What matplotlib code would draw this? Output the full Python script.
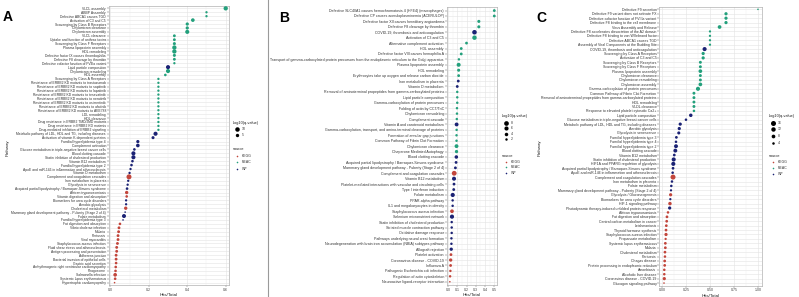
import matplotlib
matplotlib.use("Agg")
import matplotlib.pyplot as plt
import numpy as np

plt.rcParams['font.family'] = ['Liberation Sans', 'DejaVu Sans']

# ---------------- Panel A ----------------
A_labels = [
    "VLDL assembly", "ABBP Assembly", "Defective ABCA1 causes TGD", "Activation of C3 and C5",
    "Scavenging by Class B Receptors", "Chylomicron clearance", "Chylomicron assembly", "VLDL clearance",
    "Uptake and function of anthrax toxins", "Scavenging by Class F Receptors", "Plasma lipoprotein assembly",
    "HDL remodeling", "Defective factor IX causes thrombophilia", "Defective F8 cleavage by thrombin",
    "Defective cofactor function of FVIIIa variant", "Lipid particle composition", "Chylomicron remodeling",
    "HDL assembly", "Scavenging by Class A Receptors",
    "Resistance of ERBB2 KD mutants to trastuzumab", "Resistance of ERBB2 KD mutants to sapitinib",
    "Resistance of ERBB2 KD mutants to lapatinib", "Resistance of ERBB2 KD mutants to tesevatinib",
    "Resistance of ERBB2 KD mutants to neratinib", "Resistance of ERBB2 KD mutants to osimertinib",
    "Resistance of ERBB2 KD mutants to afatinib", "Resistance of ERBB2 KD mutants to AEE788",
    "LDL remodeling", "HDL clearance", "Drug resistance in ERBB2 TMD/JMD mutants",
    "Drug resistance in ERBB2 KD mutants", "Drug-mediated inhibition of ERBB2 signaling",
    "Metabolic pathway of LDL, HDL and TG, including diseases", "Activation of vitamin K-dependent proteins",
    "Familial hyperlipidemia type 4", "Complement activation",
    "Glucose metabolism in triple-negative breast cancer cells", "Blood clotting cascade",
    "Statin inhibition of cholesterol production", "Vitamin B12 metabolism", "Familial hyperlipidemia type 2",
    "ApoE and miR-146 in inflammation and atherosclerosis", "Vitamin D metabolism",
    "Complement and coagulation cascades", "Iron metabolism in placenta", "Glycolysis in senescence",
    "Acquired partial lipodystrophy / Barraquer-Simons syndrome", "African trypanosomiasis",
    "Vitamin digestion and absorption", "Biomarkers for urea cycle disorders", "Aerobic glycolysis",
    "Cholesterol metabolism", "Mammary gland development pathway - Puberty (Stage 2 of 4)",
    "Folate metabolism", "Familial hyperlipidemia type 3", "Fat digestion and absorption",
    "Vibrio cholerae infection", "Malaria", "Pertussis", "Viral myocarditis",
    "Staphylococcus aureus infection", "Fluid shear stress and atherosclerosis",
    "Antigen processing and presentation", "Adherens junction", "Bacterial invasion of epithelial cells",
    "Gastric acid secretion", "Arrhythmogenic right ventricular cardiomyopathy", "Phagosome",
    "Salmonella infection", "Systemic lupus erythematosus", "Hypertrophic cardiomyopathy",
]
A_ratio = [
    0.6, 0.5, 0.5, 0.429, 0.4, 0.4, 0.4, 0.333, 0.333, 0.333, 0.333, 0.333, 0.333, 0.333, 0.333,
    0.3, 0.3, 0.286, 0.25, 0.25, 0.25, 0.25, 0.25, 0.25, 0.25, 0.25, 0.25, 0.25, 0.25, 0.25, 0.25, 0.25,
    0.235, 0.222, 0.143, 0.143, 0.125, 0.12, 0.12, 0.115, 0.11, 0.105, 0.1, 0.097, 0.093, 0.09, 0.087,
    0.085, 0.085, 0.082, 0.082, 0.08, 0.077, 0.071, 0.066, 0.05, 0.045, 0.043, 0.04, 0.04, 0.037,
    0.033, 0.033, 0.03, 0.03, 0.03, 0.028, 0.027, 0.025, 0.025, 0.022,
]
A_logq = [
    9, 2.5, 2.5, 6, 4.5, 4.5, 8, 3.5, 3.5, 4, 9, 9, 4, 3.5, 2.5,
    8, 8, 3, 2.5, 2.5, 2.5, 2.5, 2.5, 2.5, 2.5, 2.5, 2.5, 2.5, 2.5, 2.5, 2.5, 2.5,
    8, 4, 4.5, 6, 3, 8, 8, 3, 3, 2.5, 2.5, 13, 2.5, 2.5, 3,
    5, 3, 2.5, 2.5, 5, 2, 7.5, 2, 3, 3.5, 3.5, 3.5, 3.5, 3.5,
    3.5, 3.5, 3.5, 3.5, 3, 3, 3, 6, 3, 2,
]
A_source = (["REAC"] * 15 + ["WP"] + ["REAC"] * 16 + ["WP"] * 11 + ["KEGG"] + ["WP"] * 3 +
            ["KEGG"] * 2 + ["WP"] * 2 + ["KEGG"] + ["WP"] * 3 + ["KEGG"] * 16)

# ---------------- Panel B ----------------
B_labels = [
    "Defective SLC40A1 causes hemochromatosis 4 (HFE4) (macrophages)",
    "Defective CP causes aceruloplasminemia (ACERULOP)",
    "Defective factor XII causes hereditary angioedema", "Defective F8 cleavage by thrombin",
    "COVID-19, thrombosis and anticoagulation", "Activation of C3 and C5", "Alternative complement activation",
    "HDL assembly", "Defective factor VIII causes hemophilia A",
    "Transport of gamma-carboxylated protein precursors from the endoplasmic reticulum to the Golgi apparatus",
    "Plasma lipoprotein assembly", "HDL remodeling", "Erythrocytes take up oxygen and release carbon dioxide",
    "Iron metabolism in placenta", "Vitamin D metabolism",
    "Removal of aminoterminal propeptides from gamma-carboxylated proteins", "Lipid particle composition",
    "Gamma-carboxylation of protein precursors", "Folding of actin by CCT/TriC", "Chylomicron remodeling",
    "Complement cascade", "Vitamin A and carotenoid metabolism",
    "Gamma-carboxylation, transport, and amino-terminal cleavage of proteins",
    "Formation of annular gap junctions", "Common Pathway of Fibrin Clot Formation",
    "Chylomicron clearance", "Chaperone Mediated Autophagy", "Blood clotting cascade",
    "Acquired partial lipodystrophy / Barraquer-Simons syndrome",
    "Mammary gland development pathway - Puberty (Stage 2 of 4)", "Complement and coagulation cascades",
    "Vitamin B12 metabolism", "Platelet-mediated interactions with vascular and circulating cells",
    "Type I interferon induction", "Folate metabolism", "PPAR-alpha pathway",
    "IL1 and megakaryocytes in obesity", "Staphylococcus aureus infection", "Selenium micronutrient network",
    "Statin inhibition of cholesterol production", "Striated muscle contraction pathway",
    "Oxidative damage response", "Pathways underlying neural crest formation",
    "Neurodegeneration with brain iron accumulation (NBIA) subtypes pathway", "Allograft rejection",
    "Platelet activation", "Coronavirus disease - COVID-19", "Influenza A",
    "Pathogenic Escherichia coli infection", "Regulation of actin cytoskeleton",
    "Neuroactive ligand-receptor interaction",
]
B_ratio = [
    0.5, 0.5, 0.333, 0.333, 0.286, 0.286, 0.2, 0.143, 0.143, 0.118, 0.115, 0.115, 0.115, 0.111, 0.1,
    0.1, 0.1, 0.1, 0.097, 0.097, 0.095, 0.093, 0.093, 0.092, 0.092, 0.092, 0.092, 0.09, 0.087, 0.08,
    0.067, 0.065, 0.065, 0.062, 0.051, 0.05, 0.05, 0.043, 0.043, 0.04, 0.04, 0.04, 0.037, 0.037, 0.035,
    0.032, 0.029, 0.028, 0.026, 0.023, 0.02,
]
B_logq = [
    2.5, 2.5, 3, 3, 7.5, 7, 2.5, 2.5, 2.5, 2, 5.5, 3, 2.5, 2.5, 2.5,
    2, 2, 2, 2, 2, 2, 5, 2, 2, 2, 5, 3.5, 4, 2.5, 2.5,
    8.5, 5.5, 2.5, 2.5, 6, 2, 2, 4.5, 6, 2, 2, 2, 2, 2, 3.5,
    2.5, 3.5, 2.5, 2, 2, 1.5,
]
B_source = (["REAC"] * 4 + ["WP"] + ["REAC"] * 8 + ["WP"] * 2 + ["REAC"] * 6 + ["WP"] +
            ["REAC"] * 5 + ["WP"] * 3 + ["KEGG"] + ["WP"] * 6 + ["KEGG"] + ["WP"] * 7 + ["KEGG"] * 6)

# ---------------- Panel C ----------------
C_labels = [
    "Defective F9 secretion", "Defective F9 variant does not activate FX",
    "Defective cofactor function of FVIIIa variant", "Defective F8 binding to the cell membrane",
    "Virus Assembly and Release", "Defective F8 accelerates dissociation of the A2 domain",
    "Defective F8 binding to von Willebrand factor", "Defective ABCA1 causes TGD",
    "Assembly of Viral Components at the Budding Site", "COVID-19, thrombosis and anticoagulation",
    "Scavenging by Class A Receptors", "Activation of C3 and C5", "Scavenging by Class B Receptors",
    "Scavenging by Class F Receptors", "Plasma lipoprotein assembly", "Chylomicron clearance",
    "Chylomicron remodeling", "Chylomicron assembly", "Gamma-carboxylation of protein precursors",
    "Common Pathway of Fibrin Clot Formation",
    "Removal of aminoterminal propeptides from gamma-carboxylated proteins", "HDL remodeling",
    "VLDL clearance", "Response to elevated platelet cytosolic Ca2+", "Lipid particle composition",
    "Glucose metabolism in triple-negative breast cancer cells",
    "Metabolic pathway of LDL, HDL and TG, including diseases", "Aerobic glycolysis",
    "Glycolysis in senescence", "Familial hyperlipidemia type 3", "Familial hyperlipidemia type 4",
    "Familial hyperlipidemia type 2", "Blood clotting cascade", "Vitamin B12 metabolism",
    "Statin inhibition of cholesterol production", "HIF1A and PPARG regulation of glycolysis",
    "Acquired partial lipodystrophy / Barraquer-Simons syndrome",
    "ApoE and miR-146 in inflammation and atherosclerosis", "Complement and coagulation cascades",
    "Iron metabolism in placenta", "Folate metabolism",
    "Mammary gland development pathway - Puberty (Stage 2 of 4)", "Glycolysis / Gluconeogenesis",
    "Biomarkers for urea cycle disorders", "HIF-1 signaling pathway",
    "Photodynamic therapy-induced unfolded protein response", "African trypanosomiasis",
    "Fat digestion and absorption", "Central carbon metabolism in cancer", "Leishmaniasis",
    "Thyroid hormone synthesis", "Staphylococcus aureus infection", "Propanoate metabolism",
    "Systemic lupus erythematosus", "Malaria", "Cholesterol metabolism", "Pertussis", "Chagas disease",
    "Protein processing in endoplasmic reticulum", "Amoebiasis", "Alcoholic liver disease",
    "Coronavirus disease - COVID-19", "Glucagon signaling pathway",
]
C_ratio = [
    1.0, 0.667, 0.667, 0.667, 0.6, 0.5, 0.5, 0.5, 0.5, 0.444, 0.429, 0.429, 0.4, 0.4, 0.4,
    0.4, 0.4, 0.4, 0.375, 0.333, 0.333, 0.333, 0.333, 0.333, 0.3, 0.25, 0.19, 0.18, 0.175, 0.15,
    0.146, 0.146, 0.139, 0.128, 0.122, 0.118, 0.115, 0.111, 0.115, 0.104, 0.097, 0.094, 0.09, 0.087,
    0.083, 0.08, 0.0625, 0.052, 0.049, 0.045, 0.042, 0.042, 0.038, 0.035, 0.035, 0.031, 0.031,
    0.028, 0.028, 0.024, 0.024, 0.024, 0.021,
]
C_logq = [
    3, 6, 6, 6, 8, 3.5, 3.5, 3.5, 3.5, 10, 6, 6, 5, 5, 8,
    5, 5, 8, 10, 5, 5, 5, 5, 4, 7, 4, 6, 6, 5.5, 4.5,
    4, 9, 9, 4.5, 10, 10, 4.5, 4, 16, 4, 4, 3.5, 6, 3.5,
    7, 6, 4, 4.5, 4.5, 4.5, 4.5, 6, 3.5, 4.5, 4.5, 4.5, 4,
    4.5, 4.5, 4, 4, 6, 3,
]
C_source = (["REAC"] * 9 + ["WP"] + ["REAC"] * 14 + ["WP"] * 14 + ["KEGG"] + ["WP"] * 3 +
            ["KEGG"] + ["WP"] + ["KEGG"] + ["WP"] + ["KEGG"] * 17)

# ---------------- styling ----------------
W, H = 799, 297
DPI = 100
COLORS = {"KEGG": "#C2463C", "REAC": "#23A07C", "WP": "#1B2274"}
fig = plt.figure(figsize=(W / DPI, H / DPI), dpi=DPI)
fig.patch.set_facecolor("white")


def rect(x0, y0, x1, y1):
    return [x0 / W, 1 - y1 / H, (x1 - x0) / W, (y1 - y0) / H]


def size_fn(v, vmin, vmax, dmin=1.6, dmax=5.0):
    v = np.clip(np.asarray(v, float), vmin, vmax)
    d_px = dmin + (dmax - dmin) * np.sqrt((v - vmin) / (vmax - vmin))
    return (d_px * 72 / DPI) ** 2


def panel(r, labels, ratio, logq, source, xlim, xticks, xticklabels, vmin, vmax, dmax, fs):
    ax = fig.add_axes(rect(*r))
    n = len(labels)
    y = np.arange(n)[::-1]
    cols = [COLORS[s] for s in source]
    ax.scatter(ratio, y, s=size_fn(logq, vmin, vmax, dmax=dmax), c=cols, linewidths=0, zorder=3)
    ax.set_ylim(-0.6, n - 0.4)
    ax.set_xlim(*xlim)
    ax.set_yticks(y)
    ax.set_yticklabels(labels, fontsize=fs, color="#333333")
    ax.set_xticks(xticks)
    ax.set_xticklabels(xticklabels, fontsize=2.6, color="#444444")
    mids = [(a + b) / 2 for a, b in zip(xticks[:-1], xticks[1:])]
    ax.set_xticks(mids, minor=True)
    ax.grid(True, which="major", color="#E4E4E4", lw=0.4, zorder=0)
    ax.grid(True, which="minor", axis="x", color="#F0F0F0", lw=0.3, zorder=0)
    ax.set_axisbelow(True)
    ax.tick_params(axis="both", which="major", length=1.2, width=0.3, pad=0.8, color="#555555")
    ax.tick_params(axis="both", which="minor", length=0)
    for sp in ax.spines.values():
        sp.set_color("#B0B0B0")
        sp.set_linewidth(0.5)
    ax.set_xlabel("Hits/Total", fontsize=3.2, labelpad=1, color="#222222")
    return ax


axA = panel((108.7, 6, 228.7, 285), A_labels, A_ratio, A_logq, A_source,
            (-0.0085, 0.6155), [0.0, 0.2, 0.4, 0.6], ["0.0", "0.2", "0.4", "0.6"], 2, 13, 5.0, 2.45)
axB = panel((446.7, 7.3, 496.7, 285), B_labels, B_ratio, B_logq, B_source,
            (-0.014, 0.526), [0.0, 0.1, 0.2, 0.3, 0.4, 0.5], ["0.0", "0.1", "0.2", "0.3", "0.4", "0.5"],
            1.5, 8.5, 4.8, 2.6)
axC = panel((659.3, 6.7, 761.7, 285.7), C_labels, C_ratio, C_logq, C_source,
            (-0.028, 1.039), [0.0, 0.25, 0.5, 0.75, 1.0], ["0.00", "0.25", "0.50", "0.75", "1.00"],
            3, 16, 5.0, 2.55)

# ---------------- overlay: legends, letters ----------------
ov = fig.add_axes([0, 0, 1, 1])
ov.set_xlim(0, W)
ov.set_ylim(H, 0)
ov.axis("off")
ov.patch.set_alpha(0)

ov.plot([268, 268], [0, H], color="#9A9A9A", lw=0.8)

for x, y, t in [(3, 17, "A"), (279, 18, "B"), (536, 18, "C")]:
    ov.text(x, y, t, fontsize=10, fontweight="bold", va="center", ha="left")

ov.text(8, 148, "Pathway", rotation=90, fontsize=3.2, va="center", ha="center", color="#222222")
ov.text(540, 148, "Pathway", rotation=90, fontsize=3.2, va="center", ha="center", color="#222222")


def legend(x_title, y_title, dot_x, lab_x, size_vals, size_ys, vmin, vmax, dmax, src_title_y, src_ys):
    ov.text(x_title, y_title, "-log10(q-value)", fontsize=2.8, va="center", ha="left", color="#222222")
    for v, yy in zip(size_vals, size_ys):
        ov.scatter([dot_x], [yy], s=size_fn([v], vmin, vmax, dmax=dmax), c="black", linewidths=0)
        ov.text(lab_x, yy, str(v), fontsize=2.5, va="center", ha="left", color="#333333")
    ov.text(x_title, src_title_y, "source", fontsize=2.8, va="center", ha="left", color="#222222")
    for s, yy in zip(["KEGG", "REAC", "WP"], src_ys):
        ov.scatter([dot_x], [yy], s=size_fn([vmin], vmin, vmax), c=COLORS[s], linewidths=0)
        ov.text(lab_x, yy, s, fontsize=2.5, va="center", ha="left", color="#333333")


legend(233, 123.3, 237.3, 241.7, [10, 5], [128.5, 135.3], 2, 13, 5.0, 149.3, [156, 162.3, 168.7])
legend(502, 115.7, 506, 510.5, [8, 6, 4, 2], [122.7, 128.3, 133.7, 139.3], 1.5, 8.5, 4.8,
       155.7, [161.7, 167, 173])
legend(769, 116, 772.7, 777.5, [16, 12, 8, 4], [122.7, 129.3, 136, 142.7], 3, 16, 5.0,
       156, [161.7, 167.7, 174.3])

fig.savefig("out.png", dpi=DPI, facecolor="white")
